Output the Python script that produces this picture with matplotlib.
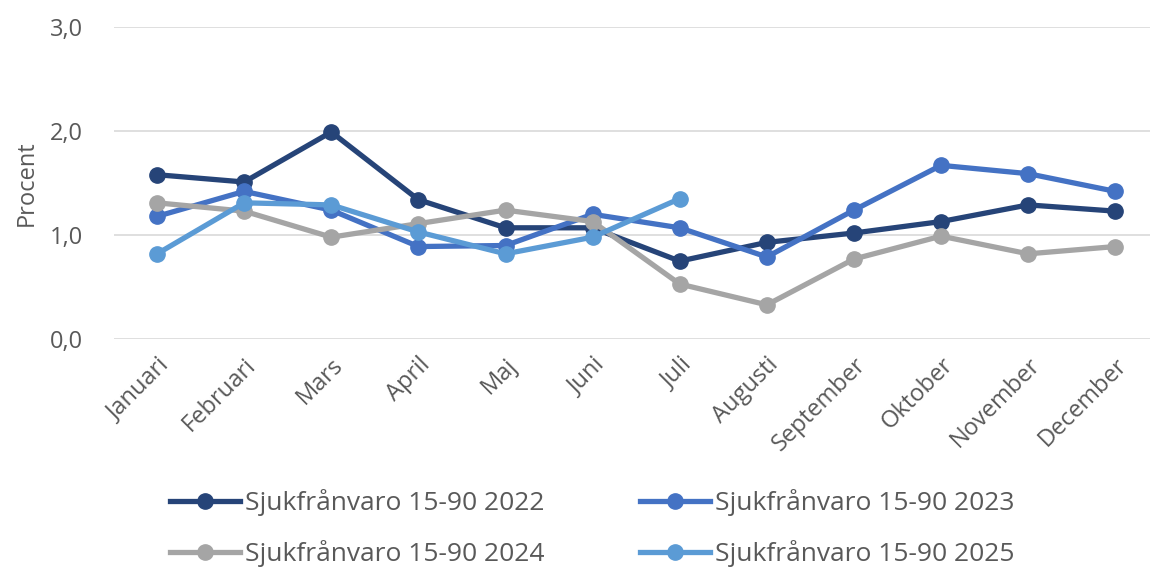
import numpy as np
import matplotlib
matplotlib.use('Agg')
import matplotlib.pyplot as plt
from matplotlib.ticker import FuncFormatter

months = ['Januari', 'Februari', 'Mars', 'April', 'Maj', 'Juni', 'Juli',
          'Augusti', 'September', 'Oktober', 'November', 'December']
v2022 = [1.58, 1.51, 1.99, 1.34, 1.07, 1.07, 0.75, 0.93, 1.02, 1.13, 1.29, 1.23]
v2023 = [1.18, 1.42, 1.24, 0.89, 0.90, 1.20, 1.07, 0.79, 1.24, 1.67, 1.59, 1.42]
v2024 = [1.31, 1.23, 0.98, 1.11, 1.24, 1.13, 0.53, 0.33, 0.77, 0.99, 0.82, 0.89]
v2025 = [0.82, 1.31, 1.29, 1.03, 0.82, 0.98, 1.35]
labels = ['Sjukfrånvaro 15-90 2022', 'Sjukfrånvaro 15-90 2023',
          'Sjukfrånvaro 15-90 2024', 'Sjukfrånvaro 15-90 2025']
colors = ['#264478', '#4472C4', '#A5A5A5', '#5B9BD5']

plt.rcParams['font.family'] = ['Open Sans', 'DejaVu Sans']
txt = '#595959'

fig = plt.figure(figsize=(11.5, 5.72), dpi=100)
ax = fig.add_axes([0.0987, 0.407, 0.909, 0.546])

x = np.arange(len(months))
lines = []
for vals, lab, c in zip([v2022, v2023, v2024, v2025], labels, colors):
    ln, = ax.plot(x[:len(vals)], vals, '-o', color=c, lw=3.8, ms=11, label=lab,
                  solid_joinstyle='round')
    lines.append(ln)

ax.set_ylim(0, 3)
ax.set_yticks([0, 1, 2, 3])
ax.yaxis.set_major_formatter(FuncFormatter(lambda v, p: f'{v:.1f}'.replace('.', ',')))
ax.set_xlim(-0.5, 11.5)
ax.set_xticks(x)
ax.set_xticklabels(months, rotation=45, ha='right', rotation_mode='anchor')
ax.tick_params(length=0, labelsize=17, colors=txt)
ax.tick_params(axis='y', pad=22)
ax.tick_params(axis='x', pad=10)
ax.grid(axis='y', color='#d9d9d9', lw=1.2)
ax.set_axisbelow(True)
for s in ax.spines.values():
    s.set_visible(False)
ax.set_ylabel('Procent', fontsize=17, color=txt, labelpad=8)

# legend is row-wise in the reference, matplotlib fills column-wise
order = [0, 2, 1, 3]
fig.legend([lines[i] for i in order], [labels[i] for i in order],
           loc='upper center', ncol=2, frameon=False, fontsize=19,
           bbox_to_anchor=(0.515, 0.186), handlelength=2.65, columnspacing=3.6,
           labelspacing=0.9, handletextpad=0.2, labelcolor=txt)

plt.savefig('out.png', dpi=100)
